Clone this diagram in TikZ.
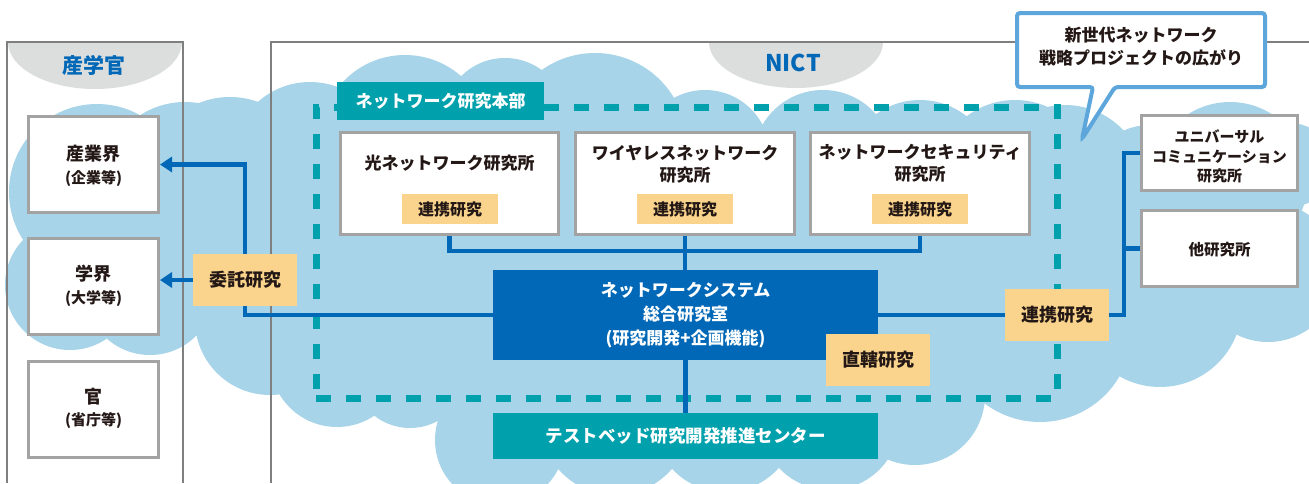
\documentclass[tikz,border=0pt]{standalone}
\usepackage{fontspec}
\setmainfont{Noto Sans CJK JP}
\usetikzlibrary{arrows.meta}
\definecolor{cloudc}{HTML}{A7D4E8}
\definecolor{nblue}{HTML}{0068B7}
\definecolor{teal2}{HTML}{00A1AC}
\definecolor{tagc}{HTML}{FAD48C}
\definecolor{boxgray}{HTML}{A3A3A3}
\definecolor{panelgray}{HTML}{7F7F7F}
\definecolor{ellgray}{HTML}{DCDDDD}
\definecolor{txt}{HTML}{231815}
\definecolor{callc}{HTML}{5DA6DC}
\newcommand\fsz[2]{\fontsize{#1}{#2}\selectfont}
\pgfdeclarelayer{back}
\pgfdeclarelayer{mid}
\pgfsetlayers{back,mid,main}
\tikzset{
  labbox/.style={draw=boxgray, line width=3pt, fill=white, inner sep=0pt},
  tagbase/.style={fill=tagc, text=txt, inner sep=0pt},
  bigtag/.style={tagbase, minimum width=104pt, minimum height=52pt, font=\bfseries\fsz{18}{22}},
  smalltag/.style={tagbase, minimum width=96pt, minimum height=30pt, font=\bfseries\fsz{16}{20}},
  ttl/.style={text=txt, font=\bfseries\fsz{17}{22}, align=center, inner sep=0pt},
  conn/.style={draw=nblue, line width=4.5pt},
  arr/.style={conn, -{Triangle[length=12pt,width=15pt]}},
  panel/.style={draw=panelgray, line width=1.2pt},
}
\begin{document}
\begin{tikzpicture}[x=1pt,y=-1pt]
\useasboundingbox (0,0) rectangle (1309,483);

% ---------- background: cloud, panels, frame ----------
\begin{pgfonlayer}{back}
\fill[white] (0,0) rectangle (1309,483);
\fill[cloudc]
  (97,192) circle (88) (70,285) circle (65) (150,290) circle (65)
  (185,185) circle (83) (230,180) circle (83) (270,320) circle (75)
  (310,160) circle (78) (405,140) circle (85) (505,120) circle (62)
  (595,145) circle (92) (705,155) circle (65) (823,160) circle (70)
  (920,175) circle (75) (1015,180) circle (80) (1065,185) circle (80)
  (1150,190) circle (65) (1230,180) circle (78) (1290,165) circle (42)
  (1268,272) circle (70) (1160,305) circle (82) (1040,330) circle (92)
  (915,395) circle (70) (830,420) circle (70) (725,420) circle (72)
  (615,420) circle (75) (500,440) circle (65) (410,370) circle (58)
  (337,360) circle (67);
\fill[cloudc] (200,140) -- (1180,140) -- (1180,300) -- (1100,340) -- (980,370)
  -- (900,420) -- (560,430) -- (440,390) -- (300,360) -- (200,300) -- cycle;
\begin{scope}
  \clip (7,42) rectangle (183,120);
  \fill[ellgray] (95,42) ellipse (87 and 47);
\end{scope}
\begin{scope}
  \clip (271,42) rectangle (1309,120);
  \fill[ellgray] (796,42) ellipse (87 and 46);
\end{scope}
\draw[panel] (7,483) -- (7,42) -- (183,42) -- (183,483);
\draw[panel] (271,483) -- (271,42) -- (1309,42);
\node[draw=teal2, line width=7pt, dash pattern=on 15pt off 15pt,
      minimum width=741pt, minimum height=291pt, inner sep=0pt] (frame) at (686.5,252.5) {};
\end{pgfonlayer}

% ---------- headings ----------
\node[font=\bfseries\fsz{21}{24}, text=nblue] (sgk) at (94,65) {産学官};
\node[font=\bfseries\fsz{23}{26}, text=nblue] (nict) at (793,63) {NICT};

% ---------- left boxes ----------
\node[labbox, minimum width=130pt, minimum height=96pt] (ind) at (93.5,164.5) {};
\node[ttl, font=\bfseries\fsz{18}{22}] (ind-t) at (93.5,154) {産業界};
\node[ttl, font=\bfseries\fsz{15}{18}] (ind-s) at (93.5,179) {(企業等)};
\node[labbox, minimum width=130pt, minimum height=96pt] (gak) at (93.5,286.5) {};
\node[ttl, font=\bfseries\fsz{18}{22}] (gak-t) at (93.5,274) {学界};
\node[ttl, font=\bfseries\fsz{15}{18}] (gak-s) at (93.5,299) {(大学等)};
\node[labbox, minimum width=130pt, minimum height=96pt] (kan) at (93.5,409.5) {};
\node[ttl, font=\bfseries\fsz{18}{22}] (kan-t) at (93.5,397) {官};
\node[ttl, font=\bfseries\fsz{15}{18}] (kan-s) at (93.5,421) {(省庁等)};

% ---------- headquarters ----------
\node[fill=teal2, text=white, font=\bfseries\fsz{17}{20}, minimum width=207pt,
      minimum height=38pt, inner sep=0pt] (hq) at (440.5,101) {ネットワーク研究本部};

\node[labbox, minimum width=218pt, minimum height=102pt] (lab1) at (449.5,183.5) {};
\node[ttl] (lab1-t) at (449.5,163) {光ネットワーク研究所};
\node[labbox, minimum width=219pt, minimum height=102pt] (lab2) at (685,183.5) {};
\node[ttl] (lab2-t) at (685,164) {ワイヤレスネットワーク\\研究所};
\node[labbox, minimum width=219pt, minimum height=102pt] (lab3) at (920,183.5) {};
\node[ttl] (lab3-t) at (920,163.5) {ネットワークセキュリティ\\研究所};

\node[fill=nblue, text=white, font=\bfseries\fsz{17}{24}, align=center,
      minimum width=385pt, minimum height=90pt, inner sep=0pt] (core) at (685.5,315)
      {ネットワークシステム\\総合研究室\\(研究開発+企画機能)};
\node[fill=teal2, text=white, font=\bfseries\fsz{17.5}{20},
      minimum width=385pt, minimum height=46pt, inner sep=0pt] (tb) at (685.5,436)
      {テストベッド研究開発推進センター};

% ---------- right boxes ----------
\node[labbox, minimum width=156pt, minimum height=75pt] (univ) at (1219.5,153) {};
\node[ttl, font=\bfseries\fsz{15}{19.5}] (univ-t) at (1219.5,156.5) {ユニバーサル\\コミュニケーション\\研究所};
\node[labbox, minimum width=156pt, minimum height=76pt] (other) at (1219.5,248.5) {};
\node[ttl, font=\bfseries\fsz{15.5}{19}] (other-t) at (1219.5,250) {他研究所};

% ---------- connectors ----------
\coordinate (bus) at (685,251);
\coordinate (jR) at (1124,315);
\begin{pgfonlayer}{mid}
\draw[conn] (lab1.south) |- (bus) -| (lab3.south);
\draw[conn] (lab2.south) -- (lab2.south |- core.north);
\draw[conn] (core.south) -- (core.south |- tb.north);
\draw[arr] (core.west) -| (245,280) |- (ind.east);
\draw[arr] (245,280) -- (245,280 -| gak.east);
\draw[conn] (core.east) -- (jR) |- (univ.west);
\draw[conn] (jR |- other.west) -- (other.west);
\end{pgfonlayer}

% ---------- tags ----------
\node[smalltag] (tag1) at (450,209) {連携研究};
\node[smalltag] (tag2) at (685,209) {連携研究};
\node[smalltag] (tag3) at (920,209) {連携研究};
\node[bigtag] (itaku) at (245,280) {委託研究};
\node[bigtag] (choku) at (878,360) {直轄研究};
\node[bigtag] (renkei) at (1057,315) {連携研究};

% ---------- callout ----------
\draw[callc, line width=4pt, fill=white, rounded corners=3pt]
  (1017,13) -- (1265,13) -- (1265,87) -- (1115,87) -- (1082,139) -- (1093,87) -- (1017,87) -- cycle;
\node[ttl, font=\bfseries\fsz{17}{23}] (callout) at (1141,46.5) {新世代ネットワーク\\戦略プロジェクトの広がり};
\end{tikzpicture}
\end{document}
